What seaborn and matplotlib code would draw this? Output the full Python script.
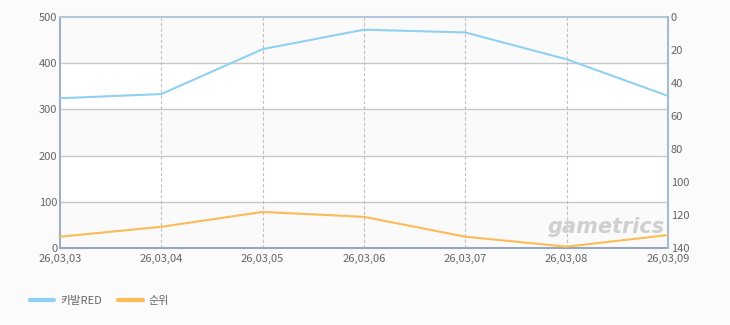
import matplotlib
matplotlib.use("Agg")
import matplotlib.pyplot as plt
import seaborn as sns
import pandas as pd
import numpy as np

dates = ["26,03,03", "26,03,04", "26,03,05", "26,03,06", "26,03,07", "26,03,08", "26,03,09"]
cabal_red = [324, 333, 430, 472, 466, 408, 329]
rank = [133, 127, 118, 121, 133, 139, 132]
left_ticks = [0, 100, 200, 300, 400, 500]
right_ticks = [0, 20, 40, 60, 80, 100, 120, 140]

sns.set_theme(style="white")
plt.rcParams['font.family'] = ['Noto Sans CJK KR', 'DejaVu Sans']

BLUE = "#90d0f2"
ORANGE = "#fdbb57"
TXT = "#666666"

df = pd.DataFrame({"x": np.arange(len(dates)), "cabal": cabal_red, "rank": rank})

fig = plt.figure(figsize=(7.3, 3.25), dpi=100, facecolor="#fbfbfb")
ax = fig.add_axes([60/730, 1-248.3/325, 608/730, 231.6/325])
ax.set_facecolor("#ffffff")

# alternating bands
for i, lo in enumerate(left_ticks[:-1]):
    if i % 2 == 0:
        ax.axhspan(lo, lo+100, color="#fafafa", zorder=0, lw=0)

ax.set_xlim(0, len(dates)-1)
ax.set_ylim(0, 500)
for v in left_ticks[1:-1]:
    ax.axhline(v, color="#c8c8c8", lw=1, zorder=1)
for xx in df["x"][1:-1]:
    ax.axvline(xx, color="#c0c0c0", lw=0.8, ls=(0, (3, 2)), zorder=1)

sns.lineplot(data=df, x="x", y="cabal", ax=ax, color=BLUE, lw=1.5, label="카발RED", legend=False, zorder=3)

ax2 = ax.twinx()
ax2.set_ylim(140, 0)
sns.lineplot(data=df, x="x", y="rank", ax=ax2, color=ORANGE, lw=1.5, label="순위", legend=False, zorder=3)
ax2.set_xlim(0, len(dates)-1)

ax.set_xticks(df["x"])
ax.set_xticklabels(dates)
ax.set_yticks(left_ticks)
ax2.set_yticks(right_ticks)
for a in (ax, ax2):
    a.set_xlabel("")
    a.set_ylabel("")
    a.tick_params(axis="both", length=0, labelsize=8, labelcolor=TXT, pad=2)
ax.tick_params(axis="x", pad=4)

for a in (ax, ax2):
    for s in a.spines.values():
        s.set_visible(False)
ax.spines["top"].set_visible(True); ax.spines["top"].set_color("#b4c8dc"); ax.spines["top"].set_linewidth(1.5)
ax.spines["left"].set_visible(True); ax.spines["left"].set_color("#a0b0c4"); ax.spines["left"].set_linewidth(1.5)
ax.spines["bottom"].set_visible(True); ax.spines["bottom"].set_color("#98a8bc"); ax.spines["bottom"].set_linewidth(1.5)
ax2.spines["right"].set_visible(True); ax2.spines["right"].set_color("#a8bcd0"); ax2.spines["right"].set_linewidth(1.5)

# watermark
fig.text(606/730, 1-227/325, "gametrics", fontsize=15, fontweight="bold", style="italic",
         color="#cfcfcf", ha="center", va="center", family="DejaVu Sans", zorder=5)

# legend
h1, = ax.plot([], [], color=BLUE, lw=3, label="카발RED")
h2, = ax.plot([], [], color=ORANGE, lw=3, label="순위")
leg = fig.legend(handles=[h1, h2], loc="center left", bbox_to_anchor=(20/730, 1-301/325),
                 ncol=2, frameon=False, fontsize=8, handlelength=2.2, handletextpad=0.5,
                 columnspacing=1.5, labelcolor=TXT)

fig.savefig("out.png", dpi=100, facecolor=fig.get_facecolor())
